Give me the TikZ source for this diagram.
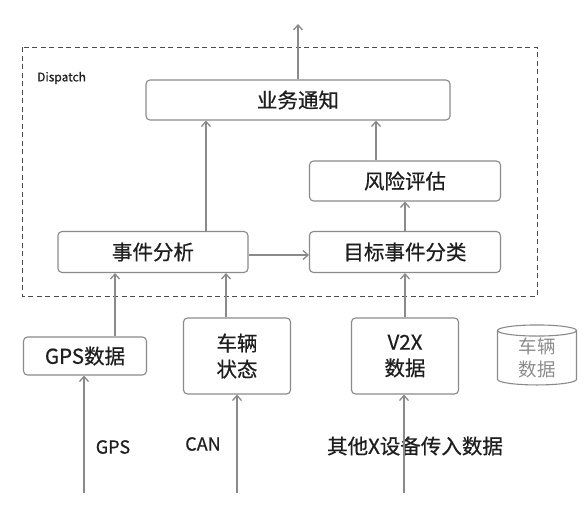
\documentclass[tikz,border=0pt]{standalone}
\usepackage{fontspec}
\setmainfont{Noto Sans CJK SC}
\newfontfamily\medfont{Noto Sans CJK SC}[FakeBold=0.6]
\usepackage{tikz}
\usetikzlibrary{positioning,fit,arrows.meta,shapes.geometric}
\usepackage{xcolor}
\definecolor{linegray}{HTML}{8A8A8A}
\definecolor{textdark}{HTML}{1E1E1E}
\definecolor{textlight}{HTML}{8C8C8C}

\begin{document}
\begin{tikzpicture}[
    x=1pt, y=-1pt,
    module/.style={rectangle, draw=linegray, line width=1.1pt, rounded corners=4pt, align=center, text=textdark, font=\medfont\fontsize{20.5}{26}\selectfont, inner sep=0pt},
    store/.style={cylinder, shape border rotate=90, aspect=0.3, draw=linegray, line width=1.1pt, align=center, text=textlight, font=\fontsize{18.5}{23}\selectfont, minimum width=79pt, minimum height=60pt, inner sep=0pt},
    source/.style={text=textdark, font=\medfont\fontsize{18}{22}\selectfont, inner sep=0pt},
    arrow/.style={-{Straight Barb[length=5pt,width=9pt]}, linegray, line width=1.3pt}
]
\useasboundingbox (0,0) rectangle (588,511);

% Dispatch modules
\node[module, minimum width=304pt, minimum height=40pt] (notify) at (298,100) {业务通知};
\node[module, minimum width=191pt, minimum height=40pt] (risk) at (405,181) {风险评估};
\node[module, minimum width=190pt, minimum height=41pt] (analysis) at (153,252) {事件分析};
\node[module, minimum width=191pt, minimum height=41pt] (classify) at (405,252) {目标事件分类};

% Input modules
\node[module, minimum width=123pt, minimum height=38pt] (gps) at (85,356) {GPS数据};
\node[module, minimum width=107pt, minimum height=76pt] (vehicle) at (237,356) {车辆\\状态};
\node[module, minimum width=107pt, minimum height=76pt] (v2x) at (405,356) {V2X\\数据};
\node[store] (db) at (537,358) {车辆\\数据};

% Dispatch boundary
\draw[textdark!80, line width=0.9pt, dash pattern=on 5pt off 3.5pt] (22,47) rectangle (537,296);
\node[anchor=west, text=textdark, font=\medfont\fontsize{12}{14}\selectfont, inner sep=0pt] (dispatch) at (37,78) {Dispatch};

% Source labels
\node[source] (gpslbl) at (113,447) {GPS};
\node[source] (canlbl) at (203,444) {CAN};
\node[source, font=\medfont\fontsize{20.5}{24}\selectfont] (otherlbl) at (415,446) {其他X设备传入数据};

% Loose ends
\coordinate (out) at (298,24);
\coordinate (gpsin) at (84,493);
\coordinate (canin) at (237,493);
\coordinate (v2xin) at (404,493);

% Internal routing
\draw[arrow] (notify.north) -- (out);
\draw[arrow] ([xshift=53pt]analysis.north) -- ([xshift=53pt]analysis.north |- notify.south);
\draw[arrow] ([xshift=-29pt]risk.north) -- ([xshift=-29pt]risk.north |- notify.south);
\draw[arrow] (classify.north) -- (risk.south);
\draw[arrow] ([yshift=-3pt]analysis.east) -- ([yshift=-3pt]classify.west);

% Inputs to Dispatch
\draw[arrow] ([xshift=30pt]gps.north) -- ([xshift=30pt]gps.north |- analysis.south);
\draw[arrow] ([xshift=-11pt]vehicle.north) -- ([xshift=-11pt]vehicle.north |- analysis.south);
\draw[arrow] (v2x.north) -- (classify.south);

% Raw data feeds
\draw[arrow] (gpsin) -- (gpsin |- gps.south);
\draw[arrow] (canin) -- (vehicle.south);
\draw[arrow] (v2xin) -- (v2xin |- v2x.south);

\end{tikzpicture}
\end{document}
